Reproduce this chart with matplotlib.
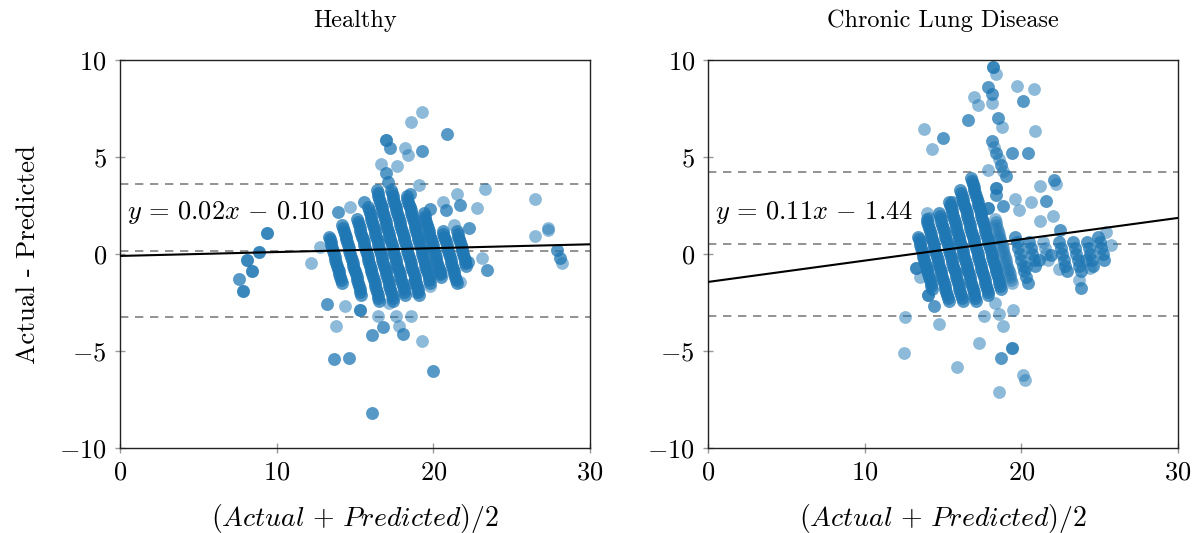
import matplotlib
matplotlib.use("Agg")
import matplotlib.pyplot as plt
from matplotlib.ticker import FuncFormatter

plt.rcParams['mathtext.fontset'] = 'cm'
plt.rcParams['font.family'] = 'serif'
plt.rcParams['font.serif'] = ['cmr10', 'DejaVu Serif']
plt.rcParams['axes.formatter.use_mathtext'] = True

# ---------------- data ----------------
titles = ["Healthy", "Chronic Lung Disease"]

# Healthy: dense diagonal bands (mean, difference); observations per point in each band
h_band_mean = [
    [13.35, 13.4, 13.45, 13.5, 13.55, 13.6, 13.65, 13.7, 13.75, 13.8, 13.85, 13.9, 13.95, 14.0, 14.05, 14.1, 14.15],
    [14.2, 14.25, 14.3, 14.35, 14.4, 14.45, 14.5, 14.55, 14.6, 14.65, 14.7, 14.75, 14.8, 14.85, 14.9, 14.95,
     15.0, 15.05, 15.1, 15.15, 15.2, 15.25, 15.3, 15.35, 15.4],
    [15.15, 15.2, 15.25, 15.3, 15.35, 15.4, 15.45, 15.5, 15.55, 15.6, 15.65, 15.7, 15.75, 15.8, 15.85, 15.9,
     15.95, 16.0, 16.05, 16.1, 16.15, 16.2, 16.25, 16.3, 16.35, 16.4, 16.45, 16.5, 16.55],
    [15.85, 15.9, 15.95, 16.0, 16.05, 16.1, 16.15, 16.2, 16.25, 16.3, 16.35, 16.4, 16.45, 16.5, 16.55, 16.6,
     16.65, 16.7, 16.75, 16.8, 16.85, 16.9, 16.95, 17.0, 17.05, 17.1, 17.15, 17.2, 17.25, 17.3, 17.35, 17.4, 17.45],
    [16.4, 16.45, 16.5, 16.55, 16.6, 16.65, 16.7, 16.75, 16.8, 16.85, 16.9, 16.95, 17.0, 17.05, 17.1, 17.15,
     17.2, 17.25, 17.3, 17.35, 17.4, 17.45, 17.5, 17.55, 17.6, 17.65, 17.7, 17.75, 17.8, 17.85, 17.9, 17.95,
     18.0, 18.05, 18.1, 18.15, 18.2],
    [17.3, 17.35, 17.4, 17.45, 17.5, 17.55, 17.6, 17.65, 17.7, 17.75, 17.8, 17.85, 17.9, 17.95, 18.0, 18.05,
     18.1, 18.15, 18.2, 18.25, 18.3, 18.35, 18.4, 18.45, 18.5, 18.55, 18.6, 18.65, 18.7, 18.75, 18.8, 18.85,
     18.9, 18.95, 19.0, 19.05, 19.1],
    [18.3, 18.35, 18.4, 18.45, 18.5, 18.55, 18.6, 18.65, 18.7, 18.75, 18.8, 18.85, 18.9, 18.95, 19.0, 19.05,
     19.1, 19.15, 19.2, 19.25, 19.3, 19.35, 19.4, 19.45, 19.5, 19.55, 19.6, 19.65, 19.7, 19.75, 19.8],
    [19.4, 19.45, 19.5, 19.55, 19.6, 19.65, 19.7, 19.75, 19.8, 19.85, 19.9, 19.95, 20.0, 20.05, 20.1, 20.15,
     20.2, 20.25, 20.3, 20.35, 20.4, 20.45, 20.5],
    [20.6, 20.65, 20.7, 20.75, 20.8, 20.85, 20.9, 20.95, 21.0, 21.05, 21.1, 21.15, 21.2, 21.25, 21.3, 21.35,
     21.4, 21.45, 21.5],
    [21.5, 21.55, 21.6, 21.65, 21.7, 21.75, 21.8, 21.85, 21.9, 21.95, 22.0, 22.05, 22.1],
]
h_band_diff = [
    [0.9, 0.75, 0.6, 0.45, 0.3, 0.15, 0.0, -0.15, -0.3, -0.45, -0.6, -0.75, -0.9, -1.05, -1.2, -1.35, -1.5],
    [1.5, 1.35, 1.2, 1.05, 0.9, 0.75, 0.6, 0.45, 0.3, 0.15, 0.0, -0.15, -0.3, -0.45, -0.6, -0.75,
     -0.9, -1.05, -1.2, -1.35, -1.5, -1.65, -1.8, -1.95, -2.1],
    [1.8, 1.65, 1.5, 1.35, 1.2, 1.05, 0.9, 0.75, 0.6, 0.45, 0.3, 0.15, 0.0, -0.15, -0.3, -0.45,
     -0.6, -0.75, -0.9, -1.05, -1.2, -1.35, -1.5, -1.65, -1.8, -1.95, -2.1, -2.25, -2.4],
    [2.4, 2.25, 2.1, 1.95, 1.8, 1.65, 1.5, 1.35, 1.2, 1.05, 0.9, 0.75, 0.6, 0.45, 0.3, 0.15,
     0.0, -0.15, -0.3, -0.45, -0.6, -0.75, -0.9, -1.05, -1.2, -1.35, -1.5, -1.65, -1.8, -1.95, -2.1, -2.25, -2.4],
    [3.3, 3.15, 3.0, 2.85, 2.7, 2.55, 2.4, 2.25, 2.1, 1.95, 1.8, 1.65, 1.5, 1.35, 1.2, 1.05,
     0.9, 0.75, 0.6, 0.45, 0.3, 0.15, 0.0, -0.15, -0.3, -0.45, -0.6, -0.75, -0.9, -1.05, -1.2, -1.35,
     -1.5, -1.65, -1.8, -1.95, -2.1],
    [3.3, 3.15, 3.0, 2.85, 2.7, 2.55, 2.4, 2.25, 2.1, 1.95, 1.8, 1.65, 1.5, 1.35, 1.2, 1.05,
     0.9, 0.75, 0.6, 0.45, 0.3, 0.15, 0.0, -0.15, -0.3, -0.45, -0.6, -0.75, -0.9, -1.05, -1.2, -1.35,
     -1.5, -1.65, -1.8, -1.95, -2.1],
    [3.0, 2.85, 2.7, 2.55, 2.4, 2.25, 2.1, 1.95, 1.8, 1.65, 1.5, 1.35, 1.2, 1.05, 0.9, 0.75,
     0.6, 0.45, 0.3, 0.15, 0.0, -0.15, -0.3, -0.45, -0.6, -0.75, -0.9, -1.05, -1.2, -1.35, -1.5],
    [2.1, 1.95, 1.8, 1.65, 1.5, 1.35, 1.2, 1.05, 0.9, 0.75, 0.6, 0.45, 0.3, 0.15, 0.0, -0.15,
     -0.3, -0.45, -0.6, -0.75, -0.9, -1.05, -1.2],
    [1.2, 1.05, 0.9, 0.75, 0.6, 0.45, 0.3, 0.15, 0.0, -0.15, -0.3, -0.45, -0.6, -0.75, -0.9, -1.05,
     -1.2, -1.35, -1.5],
    [1.2, 1.05, 0.9, 0.75, 0.6, 0.45, 0.3, 0.15, 0.0, -0.15, -0.3, -0.45, -0.6],
]
h_band_count = [2, 2, 2, 2, 2, 2, 2, 2, 2, 2]

# Healthy: scattered points (mean, difference)
h_out_mean = [9.36, 9.36, 9.36, 8.9, 8.9, 8.9, 8.08, 8.08, 8.08, 8.4, 8.4, 8.4, 7.6, 7.6,
              7.87, 7.87, 7.87, 12.2, 12.75, 13.2, 13.2, 13.8, 13.66, 13.66, 14.6, 14.6,
              14.35, 15.3, 15.3, 15.3, 16.06, 16.06, 16.8, 16.8, 16.5, 17.6, 17.8, 18.05, 18.05,
              18.6, 19.25, 19.97, 19.97, 16.06, 16.06, 17.2, 23.4, 23.4, 23.1, 22.2, 22.2, 21.7,
              20.5, 19.8, 18.9, 18.7, 18.7, 26.5, 27.3, 27.9, 27.9, 28.1, 28.1, 28.2,
              19.3, 18.55, 20.9, 20.9, 17.0, 17.0, 17.0, 17.25, 17.25, 18.2, 18.4, 19.3, 19.3,
              16.65, 17.7, 16.95, 16.95, 17.1, 17.1, 19.1, 23.3, 21.5, 18.5, 18.5, 15.6, 15.6,
              14.7, 13.9, 13.9, 20.6, 21.7, 21.7, 22.8, 19.8, 19.8, 20.8, 20.8, 22.3, 22.3,
              26.5, 27.3, 21.3]
h_out_diff = [1.1, 1.1, 1.1, 0.12, 0.12, 0.12, -0.3, -0.3, -0.3, -0.88, -0.88, -0.88, -1.3, -1.3,
              -1.9, -1.9, -1.9, -0.48, 0.38, -2.58, -2.58, -3.7, -5.4, -5.4, -5.36, -5.36,
              -2.7, -2.9, -2.9, -2.9, -4.2, -4.2, -3.75, -3.75, -3.2, -3.2, -3.7, -4.1, -4.1,
              -3.2, -4.5, -6.05, -6.05, -8.2, -8.2, -2.55, -0.82, -0.82, -0.22, -0.43, -0.43, -1.43,
              -1.0, -1.63, -1.94, -1.5, -1.5, 0.94, 1.24, 0.2, 0.2, -0.22, -0.22, -0.48,
              7.3, 6.8, 6.2, 6.2, 5.9, 5.9, 5.9, 5.48, 5.48, 5.48, 5.1, 5.3, 5.3,
              4.64, 4.55, 4.16, 4.16, 3.73, 3.73, 3.58, 3.35, 3.07, 3.07, 3.07, 2.7, 2.7,
              2.44, 2.18, 2.18, 2.7, 2.54, 2.54, 2.35, 2.3, 2.3, 2.27, 2.27, 1.32, 1.32,
              2.83, 1.32, 1.5]
h_limits = [3.6, 0.17, -3.23]
h_fit = [0.02, -0.10]

# Chronic lung disease: dense diagonal bands
c_band_mean = [
    [13.4, 13.45, 13.5, 13.55, 13.6, 13.65, 13.7, 13.75, 13.8, 13.85, 13.9, 13.95, 14.0, 14.05, 14.1, 14.15,
     14.2, 14.25, 14.3],
    [13.95, 14.0, 14.05, 14.1, 14.15, 14.2, 14.25, 14.3, 14.35, 14.4, 14.45, 14.5, 14.55, 14.6, 14.65, 14.7,
     14.75, 14.8, 14.85, 14.9, 14.95, 15.0, 15.05, 15.1, 15.15, 15.2, 15.25, 15.3, 15.35],
    [14.75, 14.8, 14.85, 14.9, 14.95, 15.0, 15.05, 15.1, 15.15, 15.2, 15.25, 15.3, 15.35, 15.4, 15.45, 15.5,
     15.55, 15.6, 15.65, 15.7, 15.75, 15.8, 15.85, 15.9, 15.95, 16.0, 16.05, 16.1, 16.15, 16.2, 16.25],
    [15.4, 15.45, 15.5, 15.55, 15.6, 15.65, 15.7, 15.75, 15.8, 15.85, 15.9, 15.95, 16.0, 16.05, 16.1, 16.15,
     16.2, 16.25, 16.3, 16.35, 16.4, 16.45, 16.5, 16.55, 16.6, 16.65, 16.7, 16.75, 16.8, 16.85, 16.9, 16.95,
     17.0, 17.05, 17.1],
    [16.1, 16.15, 16.2, 16.25, 16.3, 16.35, 16.4, 16.45, 16.5, 16.55, 16.6, 16.65, 16.7, 16.75, 16.8, 16.85,
     16.9, 16.95, 17.0, 17.05, 17.1, 17.15, 17.2, 17.25, 17.3, 17.35, 17.4, 17.45, 17.5, 17.55, 17.6, 17.65,
     17.7, 17.75, 17.8, 17.85, 17.9],
    [16.8, 16.85, 16.9, 16.95, 17.0, 17.05, 17.1, 17.15, 17.2, 17.25, 17.3, 17.35, 17.4, 17.45, 17.5, 17.55,
     17.6, 17.65, 17.7, 17.75, 17.8, 17.85, 17.9, 17.95, 18.0, 18.05, 18.1, 18.15, 18.2, 18.25, 18.3, 18.35,
     18.4, 18.45, 18.5, 18.55, 18.6, 18.65, 18.7],
    [18.3, 18.35, 18.4, 18.45, 18.5, 18.55, 18.6, 18.65, 18.7, 18.75, 18.8, 18.85, 18.9, 18.95, 19.0, 19.05,
     19.1, 19.15, 19.2, 19.25, 19.3, 19.35, 19.4],
    [19.6, 19.7, 19.8, 19.9, 20.0, 20.1, 20.2, 20.3, 20.4],
    [20.5, 20.6, 20.7, 20.8, 20.9],
    [21.4, 21.5, 21.6, 21.7],
    [22.4, 22.5, 22.6, 22.7, 22.8, 22.9],
    [23.3, 23.4, 23.5, 23.6, 23.7, 23.8],
    [24.2, 24.3, 24.4, 24.5, 24.6],
    [24.9, 25.0, 25.1, 25.2, 25.3],
]
c_band_diff = [
    [0.9, 0.75, 0.6, 0.45, 0.3, 0.15, 0.0, -0.15, -0.3, -0.45, -0.6, -0.75, -0.9, -1.05, -1.2, -1.35,
     -1.5, -1.65, -1.8],
    [1.8, 1.65, 1.5, 1.35, 1.2, 1.05, 0.9, 0.75, 0.6, 0.45, 0.3, 0.15, 0.0, -0.15, -0.3, -0.45,
     -0.6, -0.75, -0.9, -1.05, -1.2, -1.35, -1.5, -1.65, -1.8, -1.95, -2.1, -2.25, -2.4],
    [2.1, 1.95, 1.8, 1.65, 1.5, 1.35, 1.2, 1.05, 0.9, 0.75, 0.6, 0.45, 0.3, 0.15, 0.0, -0.15,
     -0.3, -0.45, -0.6, -0.75, -0.9, -1.05, -1.2, -1.35, -1.5, -1.65, -1.8, -1.95, -2.1, -2.25, -2.4],
    [2.7, 2.55, 2.4, 2.25, 2.1, 1.95, 1.8, 1.65, 1.5, 1.35, 1.2, 1.05, 0.9, 0.75, 0.6, 0.45,
     0.3, 0.15, 0.0, -0.15, -0.3, -0.45, -0.6, -0.75, -0.9, -1.05, -1.2, -1.35, -1.5, -1.65, -1.8, -1.95,
     -2.1, -2.25, -2.4],
    [3.3, 3.15, 3.0, 2.85, 2.7, 2.55, 2.4, 2.25, 2.1, 1.95, 1.8, 1.65, 1.5, 1.35, 1.2, 1.05,
     0.9, 0.75, 0.6, 0.45, 0.3, 0.15, 0.0, -0.15, -0.3, -0.45, -0.6, -0.75, -0.9, -1.05, -1.2, -1.35,
     -1.5, -1.65, -1.8, -1.95, -2.1],
    [3.9, 3.75, 3.6, 3.45, 3.3, 3.15, 3.0, 2.85, 2.7, 2.55, 2.4, 2.25, 2.1, 1.95, 1.8, 1.65,
     1.5, 1.35, 1.2, 1.05, 0.9, 0.75, 0.6, 0.45, 0.3, 0.15, 0.0, -0.15, -0.3, -0.45, -0.6, -0.75,
     -0.9, -1.05, -1.2, -1.35, -1.5, -1.65, -1.8],
    [1.8, 1.65, 1.5, 1.35, 1.2, 1.05, 0.9, 0.75, 0.6, 0.45, 0.3, 0.15, 0.0, -0.15, -0.3, -0.45,
     -0.6, -0.75, -0.9, -1.05, -1.2, -1.35, -1.5],
    [0.9, 0.6, 0.3, 0.0, -0.3, -0.6, -0.9, -1.2, -1.5],
    [0.6, 0.3, 0.0, -0.3, -0.6],
    [0.6, 0.3, 0.0, -0.3],
    [0.6, 0.3, 0.0, -0.3, -0.6, -0.9],
    [0.6, 0.3, 0.0, -0.3, -0.6, -0.9],
    [0.6, 0.3, 0.0, -0.3, -0.6],
    [0.9, 0.6, 0.3, 0.0, -0.3],
]
c_band_count = [2, 2, 2, 2, 2, 2, 1, 2, 2, 1, 2, 2, 2, 2]

c_out_mean = [12.6, 12.5, 13.8, 15.0, 15.0, 14.3, 13.95, 14.1, 18.2, 18.2, 18.2, 18.4,
              17.9, 17.9, 18.1, 18.1, 17.0, 17.2, 18.15, 19.7, 20.8, 20.1, 20.1, 16.6, 16.6,
              18.5, 18.5, 18.75, 20.9, 19.4, 19.4, 20.4, 20.4,
              18.1, 18.1, 18.25, 18.4, 18.4, 18.55, 18.7, 18.7, 18.85, 19.0, 19.0,
              17.9, 18.4, 18.4, 18.4, 18.4, 18.4,
              17.9, 17.9, 17.9, 18.8, 18.8, 15.6, 15.6, 19.6, 19.85, 20.6, 21.6, 21.6, 21.2,
              22.1, 22.1, 22.2, 21.2, 22.0, 22.45, 22.45, 25.4, 17.6, 18.3, 18.6, 18.8, 19.45,
              17.3, 15.9, 18.7, 18.7, 19.4, 19.4, 19.4, 20.1, 20.25, 18.55, 22.4, 24.35, 24.1,
              24.1, 25.7, 20.3, 21.1, 21.1, 21.9, 21.9,
              13.3, 13.3, 13.3, 13.5, 14.06, 14.06, 14.06, 14.4, 14.4, 14.75, 23.7, 23.8, 23.8]
c_out_diff = [-3.26, -5.1, 6.43, 6.0, 6.0, 5.4, 2.1, 1.85, 9.65, 9.65, 9.65, 9.3,
              8.6, 8.6, 8.27, 8.27, 8.1, 7.7, 7.8, 8.66, 8.49, 7.9, 7.9, 6.9, 6.9,
              7.0, 7.0, 6.56, 6.36, 5.2, 5.2, 5.19, 5.19,
              5.8, 5.8, 5.5, 5.2, 5.2, 4.9, 4.6, 4.6, 4.3, 4.0, 4.0,
              4.33, 3.38, 3.38, 3.38, 3.04, 3.04,
              2.35, 2.35, 2.35, 2.5, 2.5, 2.66, 2.66, 2.83, 2.27, 2.66, 2.73, 2.73, 3.52,
              3.8, 3.8, 3.6, 1.72, 1.96, 1.24, 1.24, 1.15, -3.2, -2.54, -3.1, -3.7, -2.9,
              -4.6, -5.8, -5.38, -5.38, -4.83, -4.83, -4.83, -6.24, -6.5, -7.13, -0.77, -0.7, -0.3,
              -0.3, 0.46, -0.65, -0.3, -0.3, -0.05, -0.05,
              -0.74, -0.74, -0.74, -1.17, -2.1, -2.1, -2.1, -2.7, -2.7, -3.6, -1.34, -1.77, -1.77]
c_limits = [4.23, 0.52, -3.2]
c_fit = [0.11, -1.44]

x_ticks = [0, 10, 20, 30]
y_ticks = [-10, -5, 0, 5, 10]


def collect(band_mean, band_diff, band_count, out_mean, out_diff):
    xs, ys = [], []
    for bm, bd, n in zip(band_mean, band_diff, band_count):
        for _ in range(n):
            xs.extend(bm)
            ys.extend(bd)
    xs.extend(out_mean)
    ys.extend(out_diff)
    return xs, ys


panels = [
    (collect(h_band_mean, h_band_diff, h_band_count, h_out_mean, h_out_diff), h_limits, h_fit),
    (collect(c_band_mean, c_band_diff, c_band_count, c_out_mean, c_out_diff), c_limits, c_fit),
]

fig = plt.figure(figsize=(11.95, 5.33), dpi=100)
ax_pos = [[0.1004, 0.1595, 0.3933, 0.7279], [0.5925, 0.1595, 0.3933, 0.7279]]

fmt = FuncFormatter(lambda v, p: r'$%d$' % v)

for i, ((xs, ys), lims, fit) in enumerate(panels):
    ax = fig.add_axes(ax_pos[i])
    ax.scatter(xs, ys, s=85, color='#1f77b4', alpha=0.5, linewidths=0, zorder=2)
    for lv in lims:
        ax.axhline(lv, color='#808080', linestyle=(0, (5, 4)), linewidth=1.2, zorder=1)
    ax.plot([0, 30], [fit[1], fit[0] * 30 + fit[1]], color='black', linewidth=1.5, zorder=3)
    sign = '-' if fit[1] < 0 else '+'
    ax.text(0.45, 2.15, r'$y\,=\,%.2fx\,%s\,%.2f$' % (fit[0], sign, abs(fit[1])),
            fontsize=19, ha='left', va='center', zorder=4)
    ax.set_xlim(0, 30)
    ax.set_ylim(-10, 10)
    ax.set_xticks(x_ticks)
    ax.set_yticks(y_ticks)
    ax.xaxis.set_major_formatter(fmt)
    ax.yaxis.set_major_formatter(fmt)
    ax.tick_params(direction='inout', length=7, width=1, color='#999999',
                   labelsize=19, pad=6)
    for sp in ax.spines.values():
        sp.set_linewidth(1.0)
        sp.set_color('#222222')
    ax.set_title(titles[i], fontsize=17.5, pad=24)
    ax.set_xlabel(r'$(Actual\,+\,Predicted)/2$', fontsize=20, labelpad=12)
    if i == 0:
        ax.set_ylabel('Actual - Predicted', fontsize=19.5, labelpad=14)

fig.savefig('out.png', dpi=100)
